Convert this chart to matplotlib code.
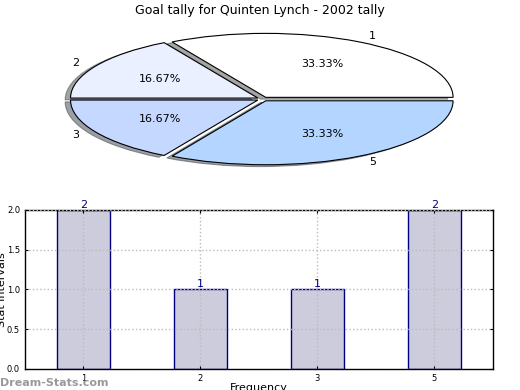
import matplotlib
matplotlib.use("Agg")
import matplotlib.pyplot as plt

categories = ["1", "2", "3", "5"]
counts = [2, 1, 1, 2]
pie_colors = ["#ffffff", "#eaf0ff", "#c5d8ff", "#b3d5ff"]
title = "Goal tally for Quinten Lynch - 2002 tally"

fig = plt.figure(figsize=(5.2, 3.9), dpi=100)

# Pie
axp = fig.add_axes([0.097, 0.560, 0.817, 0.372])
wedges, texts, autotexts = axp.pie(
    counts, labels=categories, colors=pie_colors, explode=[0.03] * 4,
    autopct="%.2f%%", pctdistance=0.6, labeldistance=1.1, startangle=0,
    radius=0.97, shadow=True,
    wedgeprops=dict(edgecolor="black", linewidth=0.8),
    textprops=dict(fontsize=8))
axp.set_aspect("auto")
axp.set_xlim(-1.1, 1.1)
axp.set_ylim(-1.1, 1.1)
fig.text(0.5, 0.972, title, ha="center", va="center", fontsize=9)

# Bars
axb = fig.add_axes([0.048, 0.054, 0.900, 0.408])
x = range(len(categories))
bars = axb.bar(x, counts, width=0.45, color="#ccccdd", edgecolor="#000080",
               linewidth=1, zorder=2)
for xi, v in zip(x, counts):
    axb.text(xi, v, str(v), ha="center", va="bottom", color="#000080",
             fontsize=8, zorder=3)
axb.set_xlim(-0.5, 3.5)
axb.set_ylim(0, 2)
axb.set_xticks(list(x))
axb.set_xticklabels(categories)
axb.set_yticks([0, 0.5, 1.0, 1.5, 2.0])
axb.set_yticklabels(["0.0", "0.5", "1.0", "1.5", "2.0"])
axb.tick_params(labelsize=6, direction="in", top=True, right=True, length=2)
axb.grid(True, linestyle=":", color="#bbbbbb", linewidth=1, zorder=1)
axb.set_axisbelow(False)
for s in axb.spines.values():
    s.set_linewidth(1)
fig.text(7 / 520, 1 - 290 / 390, "Stat intervals", fontsize=8, rotation=90,
         ha="right", va="center")
fig.text(259 / 520, 1 - 383 / 390, "Frequency", fontsize=8,
         ha="center", va="top")
fig.text(0.0, 0.005, "Dream-Stats.com", fontsize=8, color="#999999",
         fontweight="bold", ha="left", va="bottom")

fig.savefig("out.png", dpi=100)
